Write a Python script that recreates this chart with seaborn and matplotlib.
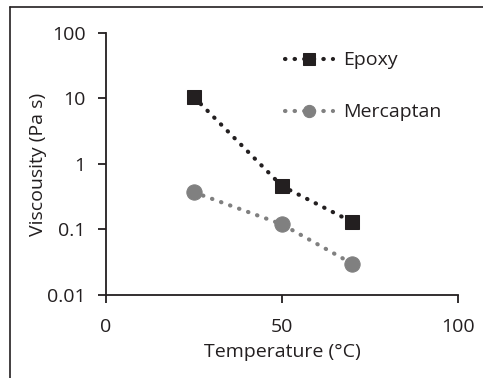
import pandas as pd
import numpy as np
import matplotlib
matplotlib.use('Agg')
import matplotlib.pyplot as plt
import seaborn as sns
from matplotlib.lines import Line2D
from matplotlib.ticker import FixedLocator, FixedFormatter, NullLocator

# values
temperature = [25, 50, 70]
epoxy = [10.5, 0.46, 0.13]
mercaptan = [0.37, 0.12, 0.03]
series_names = ['Epoxy', 'Mercaptan']
x_ticks = [0, 50, 100]
y_ticks = [0.01, 0.1, 1, 10, 100]
y_tick_labels = ['0.01', '0.1', '1', '10', '100']

df = pd.DataFrame({
    'Temperature': temperature * 2,
    'Viscosity': epoxy + mercaptan,
    'Series': [series_names[0]] * 3 + [series_names[1]] * 3,
})

sns.set_style('white')
plt.rcParams['font.family'] = ['Open Sans', 'DejaVu Sans']
fs = 14

fig = plt.figure(figsize=(4.83, 3.78), dpi=100)
ax = fig.add_axes([0.2195, 0.2196, 0.7285, 0.6931])

styles = {
    'Epoxy': dict(color='#231f20', marker='s', markersize=10),
    'Mercaptan': dict(color='#808080', marker='o', markersize=11),
}
for name in series_names:
    sub = df[df['Series'] == name]
    st = styles[name]
    sns.lineplot(data=sub, x='Temperature', y='Viscosity', ax=ax,
                 color=st['color'], marker=st['marker'], markersize=st['markersize'],
                 markeredgecolor=st['color'], linestyle=(0, (0.1, 2.2)),
                 linewidth=3, dash_capstyle='round', label=name)

ax.set_yscale('log')
ax.set_xlim(0, 100)
ax.set_ylim(0.01, 100)
ax.xaxis.set_major_locator(FixedLocator(x_ticks))
ax.yaxis.set_major_locator(FixedLocator(y_ticks))
ax.yaxis.set_major_formatter(FixedFormatter(y_tick_labels))
ax.yaxis.set_minor_locator(NullLocator())

for s in ['top', 'right']:
    ax.spines[s].set_visible(False)
for s in ['left', 'bottom']:
    ax.spines[s].set_color('#231f20')
    ax.spines[s].set_linewidth(1.3)
ax.tick_params(axis='both', which='major', direction='out', length=5.8, width=1.3,
               color='#231f20', labelsize=fs, labelcolor='#231f20', left=True, bottom=True)
ax.tick_params(axis='y', pad=9)
ax.tick_params(axis='x', pad=11)

ax.set_xlabel('Temperature (°C)', fontsize=fs, color='#231f20', labelpad=5)
ax.set_ylabel('Viscousity (Pa s)', fontsize=fs, color='#231f20', labelpad=0)

leg = ax.legend(loc='upper left', bbox_to_anchor=(0.508, 0.93), frameon=False,
                fontsize=fs, labelspacing=1.75, handlelength=2.5, handletextpad=0.5,
                borderaxespad=0, borderpad=0, markerscale=0.8, labelcolor='#231f20')

# figure frame (only left and top edges visible in the reference)
fig.add_artist(Line2D([10 / 483, 10 / 483], [0, 1 - 7 / 378], transform=fig.transFigure,
                      color='#231f20', linewidth=1.2))
fig.add_artist(Line2D([10 / 483, 1], [1 - 7 / 378, 1 - 7 / 378], transform=fig.transFigure,
                      color='#231f20', linewidth=1.2))

fig.savefig('out.png', dpi=100)
